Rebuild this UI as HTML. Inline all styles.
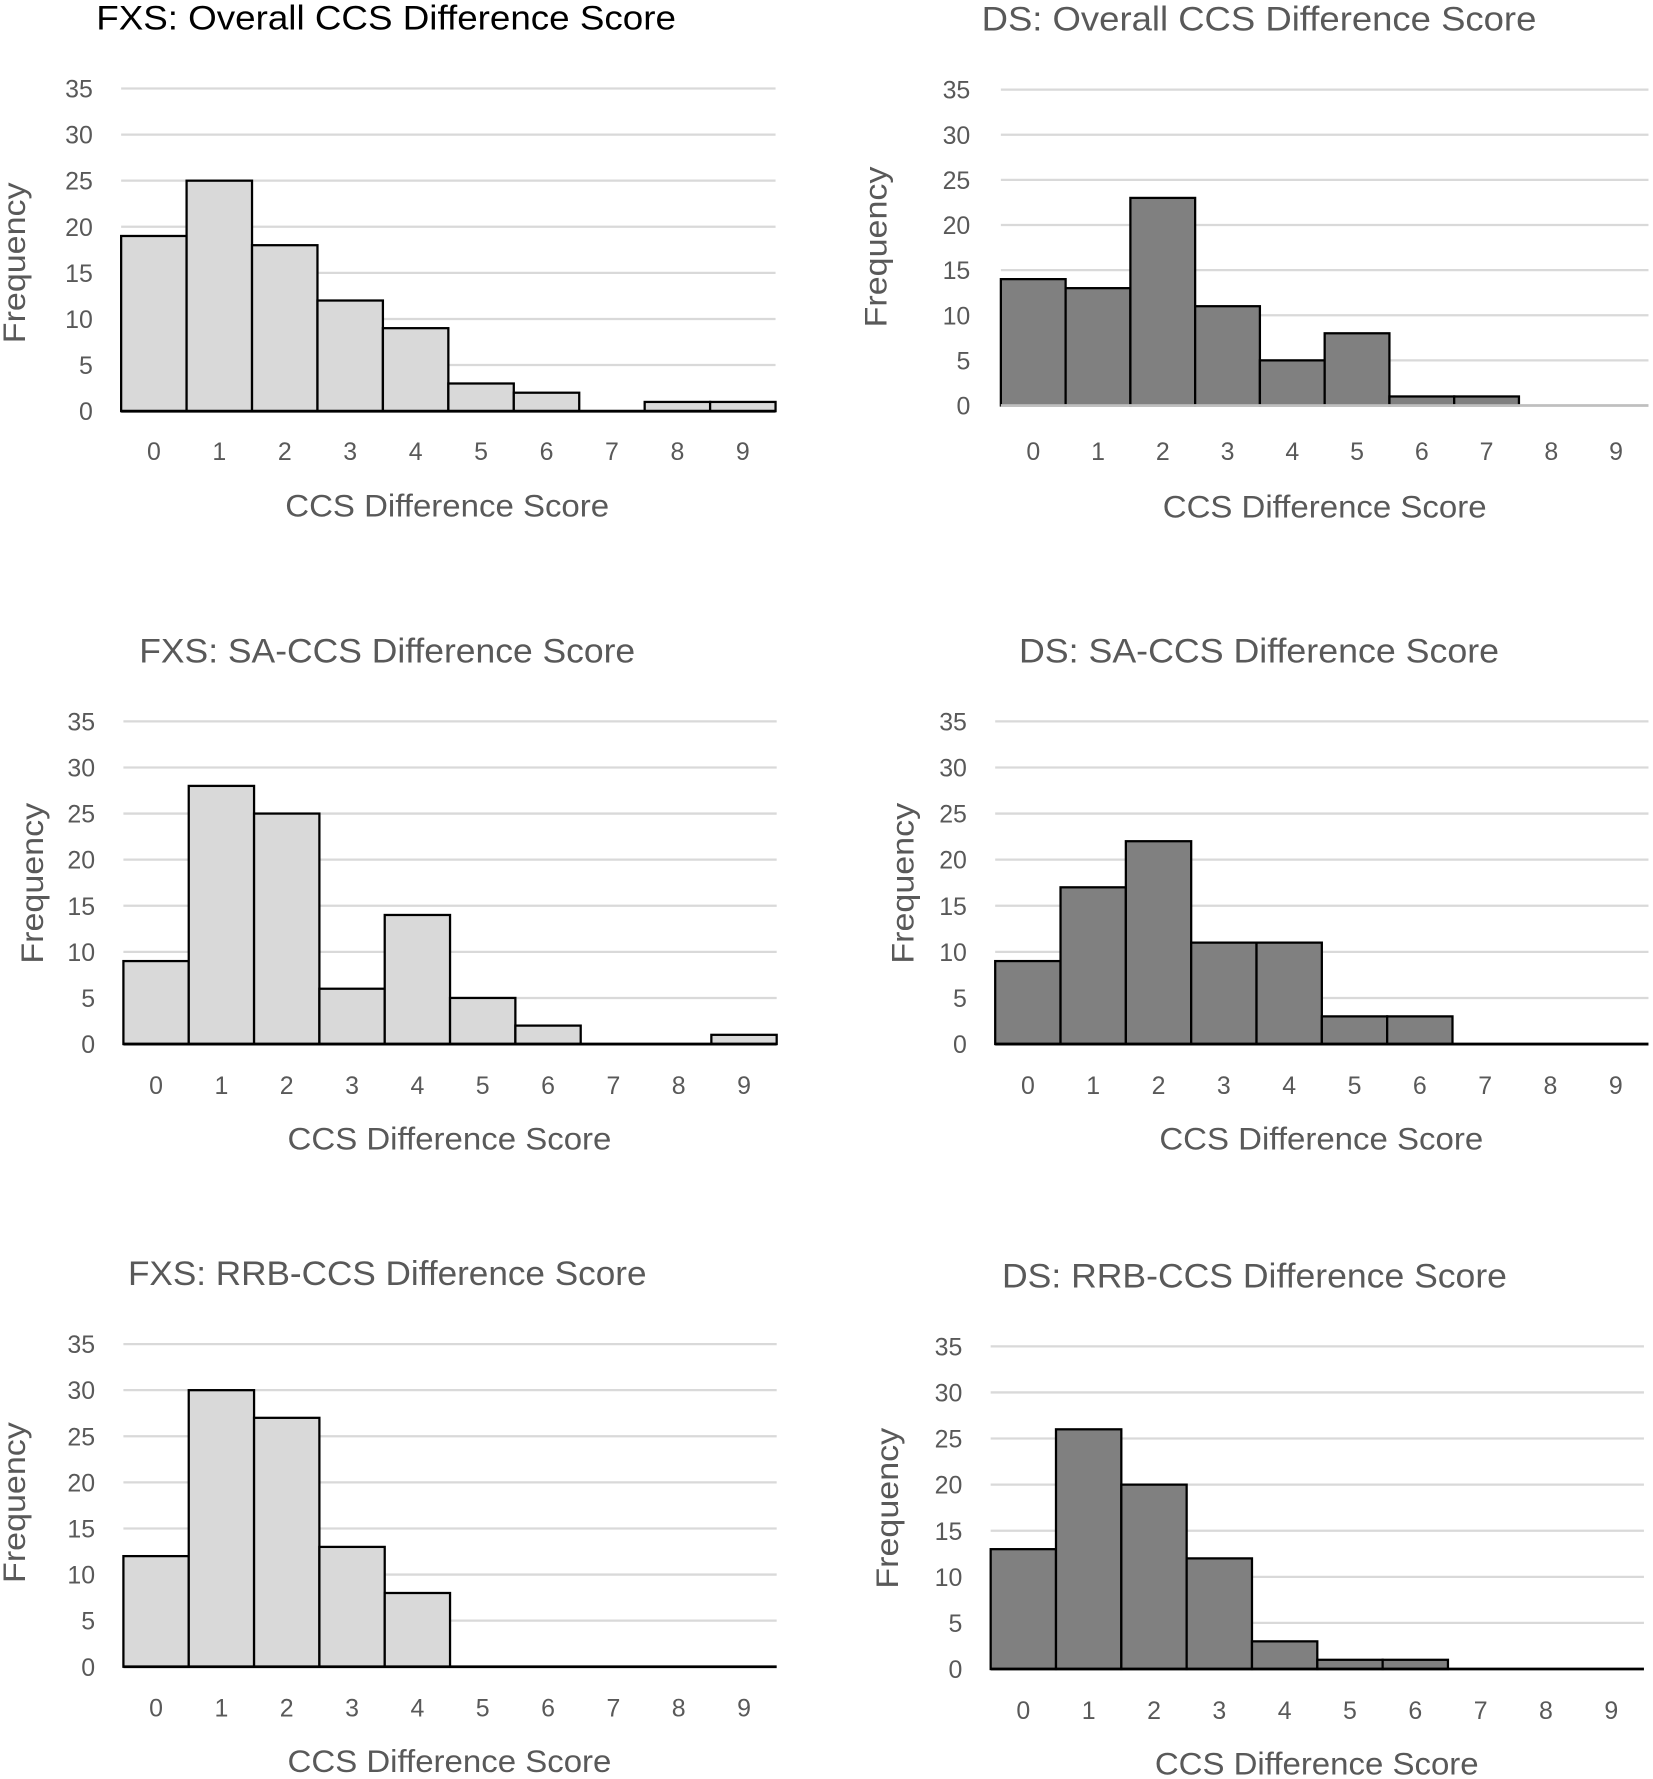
<!DOCTYPE html>
<html><head><meta charset="utf-8"><style>
html,body{margin:0;padding:0;background:#fff;}
svg{display:block;font-family:"Liberation Sans",sans-serif;}
</style></head><body>
<svg id="fig" width="1653" height="1779" viewBox="0 0 1460 1571" xmlns="http://www.w3.org/2000/svg"></svg>
<script>
const categories=["0","1","2","3","4","5","6","7","8","9"];
const yTicks=[0,5,10,15,20,25,30,35];
const fxsOverall=[19,25,18,12,9,3,2,0,1,1];
const dsOverall=[14,13,23,11,5,8,1,1,0,0];
const fxsSA=[9,28,25,6,14,5,2,0,0,1];
const dsSA=[9,17,22,11,11,3,3,0,0,0];
const fxsRRB=[12,30,27,13,8,0,0,0,0,0];
const dsRRB=[13,26,20,12,3,1,1,0,0,0];
const titles=["FXS: Overall CCS  Difference Score","DS: Overall CCS Difference Score","FXS: SA-CCS Difference Score","DS: SA-CCS Difference Score","FXS: RRB-CCS Difference Score","DS: RRB-CCS Difference Score"];

const NS="http://www.w3.org/2000/svg";
const svg=document.getElementById('fig');
function mk(tag,attrs,parent){const e=document.createElementNS(NS,tag);for(const k in attrs)e.setAttribute(k,attrs[k]);(parent||svg).appendChild(e);return e;}

const layouts=[
 {data:fxsOverall,x0:107,x1:685,yTop:78,yBot:363,fill:"#d9d9d9",base:"#000",tx:341,ty:26,tc:"#000",tw:512,lx:82,ly:398,ax:395,ay:456,fx:22,fy:232},
 {data:dsOverall,x0:884,x1:1456,yTop:79,yBot:358,fill:"#808080",base:"#bfbfbf",tx:1112,ty:27,tc:"#595959",tw:490,lx:857,ly:398,ax:1170,ay:457,fx:783,fy:218},
 {data:fxsSA,x0:109,x1:686,yTop:637,yBot:922,fill:"#d9d9d9",base:"#000",tx:342,ty:585,tc:"#595959",tw:438,lx:84,ly:958,ax:397,ay:1015,fx:38,fy:780},
 {data:dsSA,x0:879,x1:1456,yTop:637,yBot:922,fill:"#808080",base:"#000",tx:1112,ty:585,tc:"#595959",tw:424,lx:854,ly:958,ax:1167,ay:1015,fx:807,fy:780},
 {data:fxsRRB,x0:109,x1:686,yTop:1187,yBot:1472,fill:"#d9d9d9",base:"#000",tx:342,ty:1135,tc:"#595959",tw:458,lx:84,ly:1508,ax:397,ay:1565,fx:22,fy:1327},
 {data:dsRRB,x0:875,x1:1452,yTop:1189,yBot:1474,fill:"#808080",base:"#000",tx:1108,ty:1137,tc:"#595959",tw:446,lx:850,ly:1510,ax:1163,ay:1567,fx:793,fy:1332}
];

layouts.forEach((L,i)=>{
  const g=mk('g',{});
  
  
  const yScale=v=>L.yBot-(v/35)*(L.yBot-L.yTop);
  const bw=(L.x1-L.x0)/categories.length;
  const xScale=k=>L.x0+k*bw;
  const t=mk('text',{x:L.tx,y:L.ty,'text-anchor':'middle','font-size':30,fill:L.tc,textLength:L.tw,lengthAdjust:'spacingAndGlyphs'},g);
  t.textContent=titles[i];
  
  
  yTicks.forEach(v=>{
    const y=yScale(v);
    if(v>0){const gl=mk('line',{x1:L.x0,x2:L.x1,y1:y,y2:y,stroke:'#d9d9d9','stroke-width':2},g);
      
      }
    const tl=mk('text',{x:L.lx,y:y+8,'text-anchor':'end','font-size':22,fill:'#595959'},g);
    tl.textContent=v;
    
    
  });
  L.data.forEach((v,k)=>{
    if(v>0){const r=mk('rect',{x:xScale(k),y:yScale(v),width:bw,height:yScale(0)-yScale(v),fill:L.fill,stroke:'#000','stroke-width':2},g);
      
      }
    const xl=mk('text',{x:xScale(k)+bw/2,y:L.ly+8,'text-anchor':'middle','font-size':22,fill:'#595959'},g);
    xl.textContent=categories[k];
    
    
  });
  const bl=mk('line',{x1:L.x0,x2:L.x1,y1:L.yBot,y2:L.yBot,stroke:L.base,'stroke-width':2.5},g);
  
  
  const at=mk('text',{x:L.ax,y:L.ay,'text-anchor':'middle','font-size':28,fill:'#595959',textLength:286,lengthAdjust:'spacingAndGlyphs'},g);
  at.textContent='CCS Difference Score';
  
  
  const ft=mk('text',{x:0,y:0,'text-anchor':'middle','font-size':28,fill:'#595959',transform:`translate(${L.fx},${L.fy}) rotate(-90)`,textLength:142,lengthAdjust:'spacingAndGlyphs'},g);
  ft.textContent='Frequency';
  
  
});
</script>
</body></html>
